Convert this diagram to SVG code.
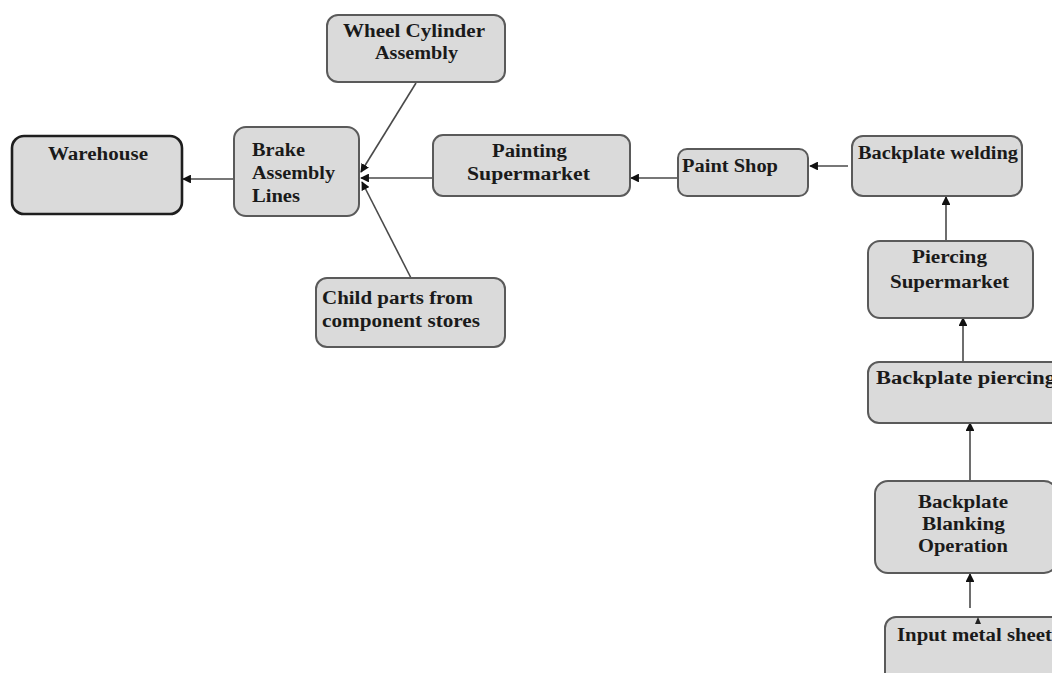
<svg xmlns="http://www.w3.org/2000/svg" width="1052" height="673" viewBox="0 0 1052 673">
<defs>
<style>
.box{fill:#dadada;stroke:#5a5a5a;stroke-width:2}
.wh{fill:#dadada;stroke:#1e1e1e;stroke-width:2.6}
.t{font-family:"Liberation Serif","Times New Roman",serif;font-weight:bold;font-size:18px;fill:#1a1a1a}
.c{fill:none;stroke:#4a4a4a;stroke-width:1.6}
</style>
<marker id="ah" viewBox="0 0 10 10" refX="9" refY="5" markerWidth="5.5" markerHeight="5.5" orient="auto" markerUnits="strokeWidth">
<path d="M0,0 L10,5 L0,10 Z" fill="#111"/>
</marker>
</defs>
<rect width="1052" height="673" fill="#ffffff"/>

<g id="connectors">
<line class="c" x1="234" y1="179" x2="183" y2="179" marker-end="url(#ah)"/>
<line class="c" x1="433" y1="178" x2="361" y2="178" marker-end="url(#ah)"/>
<line class="c" x1="416" y1="83" x2="361" y2="172" marker-end="url(#ah)"/>
<line class="c" x1="411" y1="278" x2="362" y2="182" marker-end="url(#ah)"/>
<line class="c" x1="678" y1="178" x2="631" y2="178" marker-end="url(#ah)"/>
<line class="c" x1="848" y1="166" x2="810" y2="166" marker-end="url(#ah)"/>
<line class="c" x1="946" y1="240" x2="946" y2="197" marker-end="url(#ah)"/>
<line class="c" x1="963" y1="362" x2="963" y2="318" marker-end="url(#ah)"/>
<line class="c" x1="970" y1="480" x2="970" y2="423" marker-end="url(#ah)"/>
<line class="c" x1="970" y1="608" x2="970" y2="574" marker-end="url(#ah)"/>
</g>

<g id="wheel-cylinder">
<rect class="box" x="327" y="15" width="178" height="67" rx="11"/>
<text class="t" x="343" y="37" textLength="142" lengthAdjust="spacingAndGlyphs">Wheel Cylinder</text>
<text class="t" x="375" y="59" textLength="83" lengthAdjust="spacingAndGlyphs">Assembly</text>
</g>

<g id="warehouse">
<rect class="wh" x="12" y="136" width="170" height="78" rx="12"/>
<text class="t" x="48" y="160" textLength="100" lengthAdjust="spacingAndGlyphs">Warehouse</text>
</g>

<g id="brake-assembly">
<rect class="box" x="234" y="127" width="125" height="89" rx="12"/>
<text class="t" x="252" y="156" textLength="53" lengthAdjust="spacingAndGlyphs">Brake</text>
<text class="t" x="252" y="179" textLength="83" lengthAdjust="spacingAndGlyphs">Assembly</text>
<text class="t" x="252" y="202" textLength="48" lengthAdjust="spacingAndGlyphs">Lines</text>
</g>

<g id="child-parts">
<rect class="box" x="316" y="278" width="189" height="69" rx="11"/>
<text class="t" x="322" y="304" textLength="151" lengthAdjust="spacingAndGlyphs">Child parts from</text>
<text class="t" x="322" y="327" textLength="158" lengthAdjust="spacingAndGlyphs">component stores</text>
</g>

<g id="painting-supermarket">
<rect class="box" x="433" y="135" width="197" height="61" rx="10"/>
<text class="t" x="492" y="157" textLength="75" lengthAdjust="spacingAndGlyphs">Painting</text>
<text class="t" x="467" y="180" textLength="123" lengthAdjust="spacingAndGlyphs">Supermarket</text>
</g>

<g id="paint-shop">
<rect class="box" x="678" y="149" width="130" height="47" rx="9"/>
<text class="t" x="682" y="172" textLength="96" lengthAdjust="spacingAndGlyphs">Paint Shop</text>
</g>

<g id="backplate-welding">
<rect class="box" x="852" y="136" width="170" height="60" rx="11"/>
<text class="t" x="858" y="159" textLength="160" lengthAdjust="spacingAndGlyphs">Backplate welding</text>
</g>

<g id="piercing-supermarket">
<rect class="box" x="868" y="241" width="165" height="77" rx="12"/>
<text class="t" x="912" y="263" textLength="75" lengthAdjust="spacingAndGlyphs">Piercing</text>
<text class="t" x="890" y="288" textLength="119" lengthAdjust="spacingAndGlyphs">Supermarket</text>
</g>

<g id="backplate-piercing">
<rect class="box" x="868" y="362" width="195" height="61" rx="11"/>
<text class="t" x="876" y="384" textLength="180" lengthAdjust="spacingAndGlyphs">Backplate piercing</text>
</g>

<g id="blanking">
<rect class="box" x="875" y="481" width="182" height="92" rx="13"/>
<text class="t" x="918" y="508" textLength="90" lengthAdjust="spacingAndGlyphs">Backplate</text>
<text class="t" x="922" y="530" textLength="83" lengthAdjust="spacingAndGlyphs">Blanking</text>
<text class="t" x="918" y="552" textLength="90" lengthAdjust="spacingAndGlyphs">Operation</text>
</g>

<g id="input-metal-sheet">
<rect class="box" x="885" y="617" width="180" height="70" rx="11"/>
<path d="M975,624 L978,617 L981,624 Z" fill="#222"/>
<text class="t" x="897" y="641" textLength="155" lengthAdjust="spacingAndGlyphs">Input metal sheet</text>
</g>
</svg>
